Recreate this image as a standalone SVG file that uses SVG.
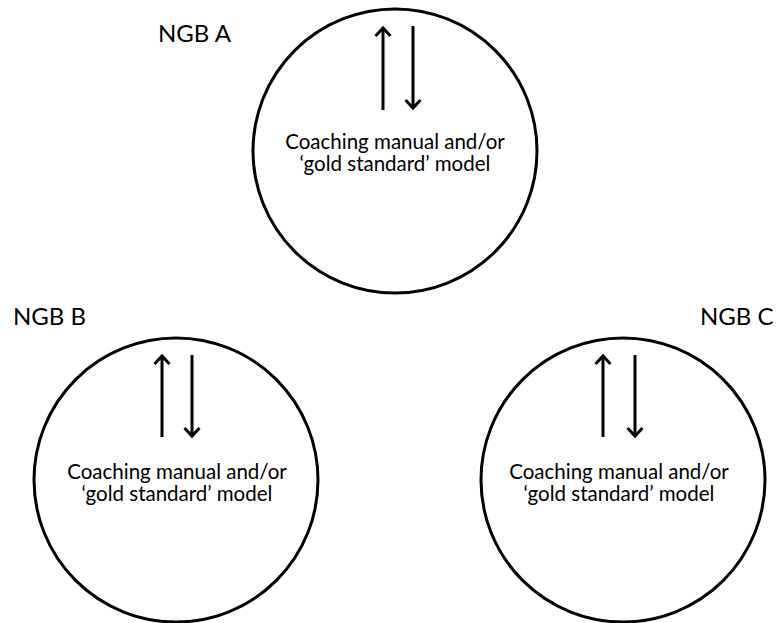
<svg xmlns="http://www.w3.org/2000/svg" width="779" height="623" viewBox="0 0 779 623">
<style>
.ring{fill:#fff;stroke:#000;stroke-width:3}
.lbl{font-family:Lato,"Open Sans","Liberation Sans",sans-serif;font-size:24px;fill:#000}
.txt{font-family:Lato,"Open Sans","Liberation Sans",sans-serif;font-size:20.5px;fill:#000;text-anchor:middle}
.arr{stroke:#000;stroke-width:3;fill:none;marker-end:url(#ah)}
</style>
<defs>
<marker id="ah" markerUnits="userSpaceOnUse" viewBox="-10 -10 12 20" refX="0" refY="0" markerWidth="12" markerHeight="20" orient="auto" overflow="visible">
<path d="M-8,-7.5 L0,0 L-8,7.5" fill="none" stroke="#000" stroke-width="3" stroke-linejoin="miter"/>
</marker>
</defs>
<rect width="779" height="623" fill="#fff"/>
<g id="ngbA">
<circle class="ring" cx="395" cy="151" r="142"/>
<text class="lbl" x="158" y="42">NGB A</text>
<text class="txt" x="395" y="149">Coaching manual and/or</text>
<text class="txt" x="395" y="171">‘gold standard’ model</text>
</g>
<g id="ngbB">
<circle class="ring" cx="176" cy="480" r="142"/>
<text class="lbl" x="13" y="325">NGB B</text>
<text class="txt" x="177" y="479">Coaching manual and/or</text>
<text class="txt" x="177" y="501">‘gold standard’ model</text>
</g>
<g id="ngbC">
<circle class="ring" cx="623" cy="480" r="142"/>
<text class="lbl" x="700" y="325">NGB C</text>
<text class="txt" x="619" y="479">Coaching manual and/or</text>
<text class="txt" x="619" y="501">‘gold standard’ model</text>
</g>
<g id="connectors">
<line class="arr" x1="383" y1="110" x2="383" y2="28"/>
<line class="arr" x1="413" y1="26" x2="413" y2="108"/>
<line class="arr" x1="162" y1="437" x2="162" y2="356"/>
<line class="arr" x1="192" y1="355" x2="192" y2="436"/>
<line class="arr" x1="603" y1="437" x2="603" y2="356"/>
<line class="arr" x1="635" y1="355" x2="635" y2="436"/>
</g>
</svg>
